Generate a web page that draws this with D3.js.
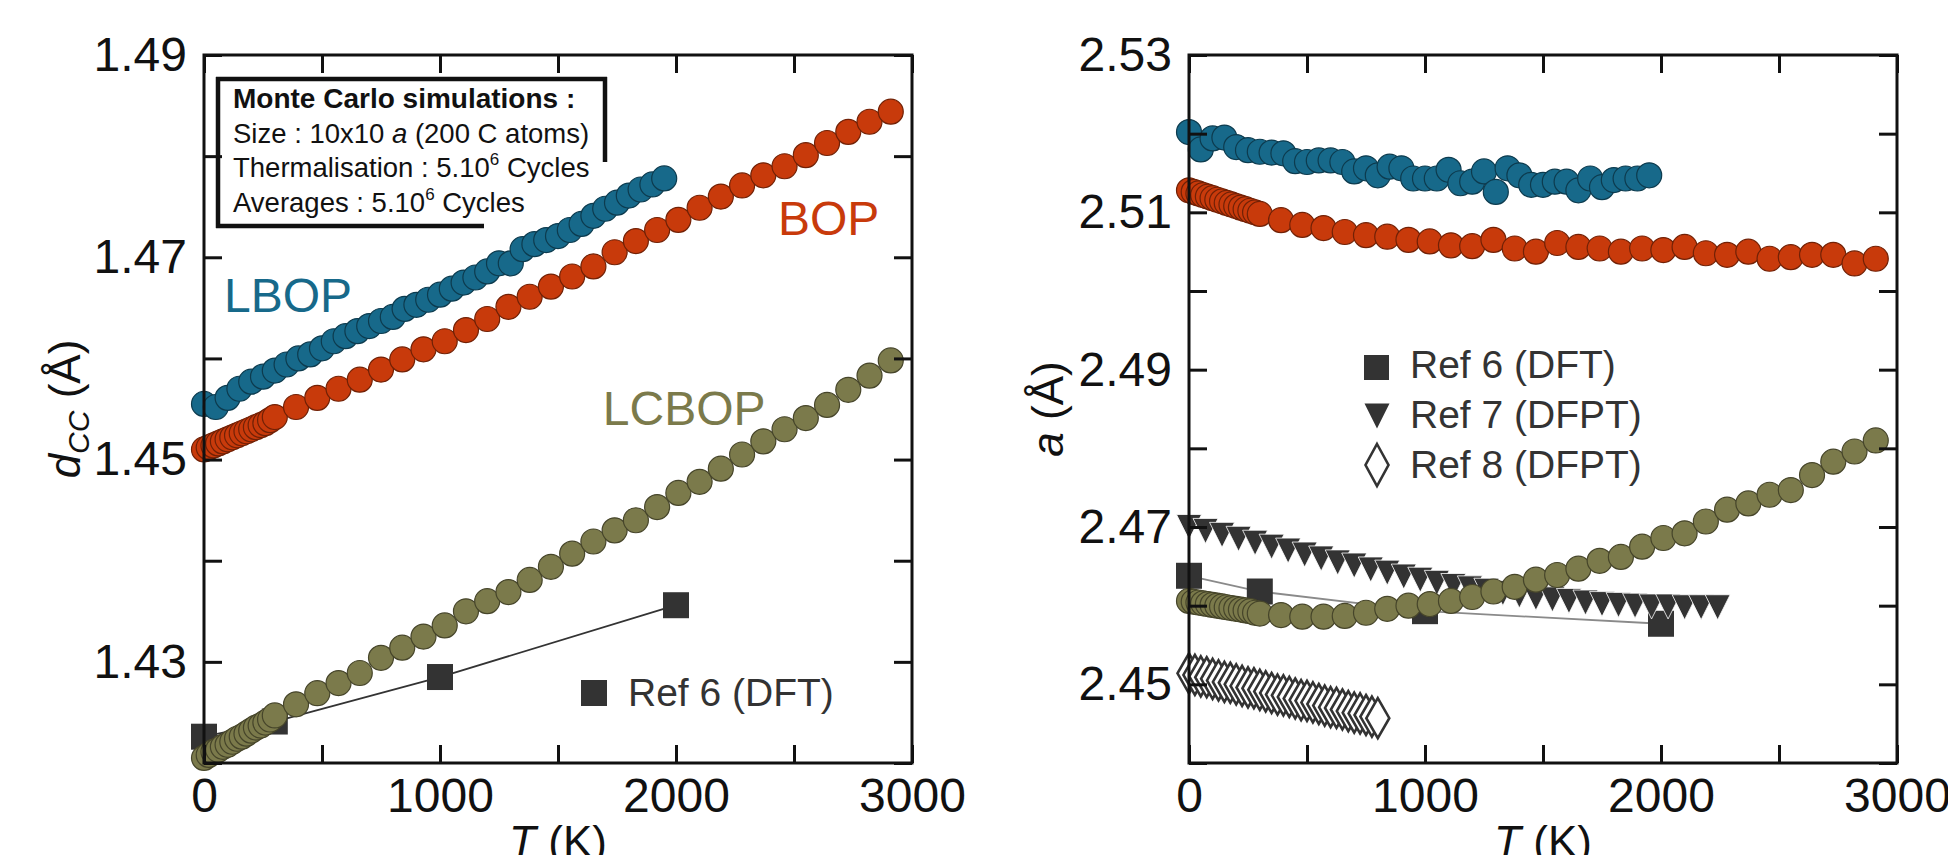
<!DOCTYPE html>
<html>
<head>
<meta charset="utf-8">
<script src="https://cdn.jsdelivr.net/npm/d3@7"></script>
<style>
body { margin: 0; background: #fff; }
text { font-family: "Liberation Sans", Arial, Helvetica, sans-serif; }
</style>
</head>
<body>
<script>
// temperatures (K)
let T_fine = [0, 20, 40, 60, 80, 100, 120, 140, 160, 180, 200, 220, 240, 260, 280];
let T_coarse = [300, 390, 480, 570, 660, 750, 840, 930, 1020, 1110, 1200, 1290, 1380, 1470, 1560,
    1650, 1740, 1830, 1920, 2010, 2100, 2190, 2280, 2370, 2460, 2550, 2640, 2730, 2820, 2910];
let T_lbop = [0, 50, 100, 150, 200, 250, 300, 350, 400, 450, 500, 550, 600, 650, 700, 750, 800, 850, 900, 950,
    1000, 1050, 1100, 1150, 1200, 1250, 1300, 1350, 1400, 1450, 1500, 1550, 1600, 1650, 1700, 1750, 1800, 1850, 1900, 1950];
let T_ref6 = [0, 300, 1000, 2000];
let T_ref7 = [0, 70, 140, 210, 280, 350, 420, 490, 560, 630, 700, 770, 840, 910, 980, 1050, 1120,
    1190, 1260, 1330, 1400, 1470, 1540, 1610, 1680, 1750, 1820, 1890, 1960, 2030, 2100, 2170, 2240];
let T_ref8 = [0, 25, 50, 75, 100, 125, 150, 175, 200, 225, 250, 275, 300, 325, 350, 375, 400,
    425, 450, 475, 500, 525, 550, 575, 600, 625, 650, 675, 700, 725, 750, 775, 800];

// left panel: d_CC (Å)
let dLBOP = [1.4555, 1.4552, 1.4561, 1.4570, 1.4577, 1.4582, 1.4588, 1.4594, 1.4600, 1.4604,
    1.4610, 1.4617, 1.4622, 1.4627, 1.4632, 1.4637, 1.4641, 1.4649, 1.4653, 1.4658,
    1.4663, 1.4669, 1.4675, 1.4680, 1.4686, 1.4694, 1.4694, 1.4708, 1.4713, 1.4717,
    1.4721, 1.4727, 1.4733, 1.4741, 1.4748, 1.4754, 1.4761, 1.4767, 1.4772, 1.4778];
let dBOP_fine = [1.4510, 1.4512, 1.4514, 1.4516, 1.4518, 1.4520, 1.4522, 1.4524, 1.4526, 1.4528,
    1.4530, 1.4532, 1.4534, 1.4536, 1.4539];
let dBOP_coarse = [1.4542, 1.4552, 1.4561, 1.4570, 1.4579, 1.4589, 1.4599, 1.4609, 1.4617, 1.4628,
    1.4639, 1.4651, 1.4661, 1.4671, 1.4681, 1.4691, 1.4705, 1.4716, 1.4727, 1.4737,
    1.4749, 1.4760, 1.4771, 1.4781, 1.4790, 1.4801, 1.4813, 1.4824, 1.4834, 1.4844];
let dLCBOP_fine = [1.4205, 1.4208, 1.4211, 1.4213, 1.4216, 1.4218, 1.4221, 1.4224, 1.4226, 1.4229,
    1.4232, 1.4235, 1.4237, 1.4240, 1.4243];
let dLCBOP_coarse = [1.4247, 1.4258, 1.4269, 1.4279, 1.4289, 1.4304, 1.4314, 1.4325, 1.4336, 1.4350,
    1.4360, 1.4369, 1.4381, 1.4394, 1.4407, 1.4419, 1.4430, 1.4440, 1.4453, 1.4467,
    1.4478, 1.4491, 1.4505, 1.4518, 1.4530, 1.4541, 1.4554, 1.4569, 1.4583, 1.4598];
let dRef6 = [1.4226, 1.4241, 1.4285, 1.4356];

// right panel: a (Å)
let aLBOP = [2.5202, 2.5180, 2.5194, 2.5195, 2.5183, 2.5179, 2.5177, 2.5176, 2.5175, 2.5165,
    2.5164, 2.5166, 2.5166, 2.5164, 2.5152, 2.5156, 2.5147, 2.5158, 2.5156, 2.5143,
    2.5143, 2.5143, 2.5154, 2.5137, 2.5139, 2.5152, 2.5126, 2.5156, 2.5147, 2.5135,
    2.5135, 2.5139, 2.5139, 2.5128, 2.5143, 2.5132, 2.5141, 2.5143, 2.5143, 2.5147];
let aBOP_fine = [2.5128, 2.5126, 2.5124, 2.5122, 2.5120, 2.5118, 2.5116, 2.5114, 2.5112, 2.5110,
    2.5108, 2.5106, 2.5104, 2.5102, 2.5100];
let aBOP_coarse = [2.5098, 2.5090, 2.5084, 2.5080, 2.5075, 2.5071, 2.5069, 2.5065, 2.5063, 2.5058,
    2.5057, 2.5065, 2.5054, 2.5050, 2.5061, 2.5056, 2.5054, 2.5050, 2.5054, 2.5052,
    2.5056, 2.5048, 2.5046, 2.5050, 2.5041, 2.5043, 2.5046, 2.5046, 2.5035, 2.5041];
let aLCBOP_fine = [2.4606, 2.4605, 2.4604, 2.4603, 2.4602, 2.4601, 2.4600, 2.4599, 2.4598, 2.4597,
    2.4596, 2.4595, 2.4594, 2.4593, 2.4591];
let aLCBOP_coarse = [2.4590, 2.4588, 2.4586, 2.4586, 2.4587, 2.4591, 2.4596, 2.4600, 2.4602, 2.4606,
    2.4611, 2.4618, 2.4624, 2.4633, 2.4639, 2.4647, 2.4657, 2.4662, 2.4675, 2.4686,
    2.4692, 2.4707, 2.4722, 2.4730, 2.4741, 2.4747, 2.4766, 2.4783, 2.4796, 2.4810];
let aRef6 = [2.4638, 2.4618, 2.4593, 2.4577];
let aRef7 = [2.4700, 2.4695, 2.4690, 2.4685, 2.4680, 2.4675, 2.4670, 2.4665, 2.4660, 2.4655,
    2.4651, 2.4646, 2.4642, 2.4637, 2.4633, 2.4629, 2.4625, 2.4622, 2.4619, 2.4616,
    2.4613, 2.4610, 2.4608, 2.4606, 2.4604, 2.4602, 2.4601, 2.4600, 2.4599, 2.4599,
    2.4598, 2.4598, 2.4598];
let aRef8 = [2.4514, 2.4512, 2.4510, 2.4509, 2.4507, 2.4505, 2.4503, 2.4502, 2.4500, 2.4498,
    2.4496, 2.4495, 2.4493, 2.4491, 2.4489, 2.4487, 2.4486, 2.4484, 2.4482, 2.4480,
    2.4479, 2.4477, 2.4475, 2.4473, 2.4471, 2.4470, 2.4468, 2.4466, 2.4464, 2.4463,
    2.4461, 2.4459, 2.4457];

let xTicks = [0, 500, 1000, 1500, 2000, 2500, 3000];
let yTicksL = [1.42, 1.43, 1.44, 1.45, 1.46, 1.47, 1.48, 1.49];
let yTicksR = [2.44, 2.45, 2.46, 2.47, 2.48, 2.49, 2.50, 2.51, 2.52, 2.53];

let teal = '#17698a', red = '#c83a0b', olive = '#7b7a4b', dark = '#333';

let svg = d3.select('body').append('svg')
    .attr('width', 1948)
    .attr('height', 855);

let xL = d3.scaleLinear().domain([0, 3000]).range([204, 912]);
let yL = d3.scaleLinear().domain([1.42, 1.49]).range([763, 55]);
let xR = d3.scaleLinear().domain([0, 3000]).range([1189, 1897]);
let yR = d3.scaleLinear().domain([2.44, 2.53]).range([763, 55]);

function circles(T, v, x, y, color) {
    svg.append('g').selectAll('circle')
        .data(T)
        .enter()
        .append('circle')
        .attr('cx', d => x(d))
        .attr('cy', (d, i) => y(v[i]))
        .attr('r', 12.5)
        .attr('fill', color)
        .attr('stroke', d3.color(color).darker(1.6))
        .attr('stroke-width', 1.2);
}

function ref6(T, v, x, y, lineColor) {
    let line = d3.line().x((d, i) => x(T[i])).y(d => y(d));
    svg.append('path')
        .attr('d', line(v))
        .attr('fill', 'none')
        .attr('stroke', lineColor)
        .attr('stroke-width', 1.8);
    svg.append('g').selectAll('rect')
        .data(T)
        .enter()
        .append('rect')
        .attr('x', d => x(d) - 13)
        .attr('y', (d, i) => y(v[i]) - 13)
        .attr('width', 26)
        .attr('height', 26)
        .attr('fill', dark);
}

function frame(x, y, yTicks) {
    let g = svg.append('g');
    let x0 = x.range()[0], x1 = x.range()[1], y0 = y.range()[0], y1 = y.range()[1];
    g.append('g').attr('transform', 'translate(0,' + y0 + ')')
        .call(d3.axisBottom(x).tickValues(xTicks).tickSizeInner(-18).tickSizeOuter(0).tickPadding(15)
            .tickFormat(d => d % 1000 === 0 ? d : ''));
    g.append('g').attr('transform', 'translate(0,' + y1 + ')')
        .call(d3.axisTop(x).tickValues(xTicks).tickSizeInner(-18).tickSizeOuter(0).tickFormat(''));
    g.append('g').attr('transform', 'translate(' + x0 + ',0)')
        .call(d3.axisLeft(y).tickValues(yTicks).tickSizeInner(-18).tickSizeOuter(0).tickPadding(17)
            .tickFormat(d => Math.round(d * 100) % 2 ? d3.format('.2f')(d) : ''));
    g.append('g').attr('transform', 'translate(' + x1 + ',0)')
        .call(d3.axisRight(y).tickValues(yTicks).tickSizeInner(-18).tickSizeOuter(0).tickFormat(''));
    g.selectAll('.domain').remove();
    g.selectAll('.tick line').attr('stroke', '#111').attr('stroke-width', 3);
    g.selectAll('.tick text').attr('font-size', 48).attr('fill', '#111');
    g.append('rect')
        .attr('x', x0).attr('y', y1)
        .attr('width', x1 - x0).attr('height', y0 - y1)
        .attr('fill', 'none')
        .attr('stroke', '#111')
        .attr('stroke-width', 3);
}

// ---------- left panel ----------
ref6(T_ref6, dRef6, xL, yL, dark);
circles(T_lbop, dLBOP, xL, yL, teal);
circles(T_fine.concat(T_coarse), dBOP_fine.concat(dBOP_coarse), xL, yL, red);
circles(T_fine.concat(T_coarse), dLCBOP_fine.concat(dLCBOP_coarse), xL, yL, olive);
frame(xL, yL, yTicksL);

svg.append('text').attr('x', xL(85)).attr('y', yL(1.4646)).attr('font-size', 48).attr('fill', teal).text('LBOP');
svg.append('text').attr('x', xL(2432)).attr('y', yL(1.4722)).attr('font-size', 48).attr('fill', red).text('BOP');
svg.append('text').attr('x', xL(1690)).attr('y', yL(1.4534)).attr('font-size', 48).attr('fill', olive).text('LCBOP');

// Ref 6 legend (left)
svg.append('rect').attr('x', 581).attr('y', 680).attr('width', 26).attr('height', 26).attr('fill', dark);
svg.append('text').attr('x', 628).attr('y', 706).attr('font-size', 39).attr('fill', dark).text('Ref 6 (DFT)');

// Monte Carlo box
let box = svg.append('g').attr('stroke', '#111').attr('stroke-width', 4.5).attr('fill', 'none');
box.append('line').attr('x1', 216).attr('x2', 607).attr('y1', 79).attr('y2', 79);
box.append('line').attr('x1', 218).attr('x2', 218).attr('y1', 77).attr('y2', 228);
box.append('line').attr('x1', 216).attr('x2', 484).attr('y1', 226).attr('y2', 226);
box.append('line').attr('x1', 605).attr('x2', 605).attr('y1', 77).attr('y2', 162);

svg.append('text').attr('x', 233).attr('y', 108).attr('font-size', 28).attr('font-weight', 'bold')
    .attr('fill', '#111').text('Monte Carlo simulations :');
let l1 = svg.append('text').attr('x', 233).attr('y', 143).attr('font-size', 27.5).attr('fill', '#111');
l1.append('tspan').text('Size : 10x10 ');
l1.append('tspan').attr('font-style', 'italic').text('a');
l1.append('tspan').text(' (200 C atoms)');
let l2 = svg.append('text').attr('x', 233).attr('y', 177).attr('font-size', 27.5).attr('fill', '#111');
l2.append('tspan').text('Thermalisation : 5.10');
l2.append('tspan').attr('font-size', 17).attr('dy', -12).text('6');
l2.append('tspan').attr('dy', 12).text(' Cycles');
let l3 = svg.append('text').attr('x', 233).attr('y', 212).attr('font-size', 27.5).attr('fill', '#111');
l3.append('tspan').text('Averages : 5.10');
l3.append('tspan').attr('font-size', 17).attr('dy', -12).text('6');
l3.append('tspan').attr('dy', 12).text(' Cycles');

// axis titles (left)
let yt = svg.append('text').attr('transform', 'translate(80,409) rotate(-90)')
    .attr('text-anchor', 'middle').attr('font-size', 44).attr('fill', '#111');
yt.append('tspan').attr('font-style', 'italic').text('d');
yt.append('tspan').attr('font-style', 'italic').attr('font-size', 30).attr('dy', 9).text('CC');
yt.append('tspan').attr('dy', -9).text(' (Å)');
let xt = svg.append('text').attr('x', 558).attr('y', 857)
    .attr('text-anchor', 'middle').attr('font-size', 44).attr('fill', '#111');
xt.append('tspan').attr('font-style', 'italic').text('T');
xt.append('tspan').text(' (K)');

// ---------- right panel ----------
ref6(T_ref6, aRef6, xR, yR, '#8a8a8a');

let tri = 'M-12.5,-12.5L12.5,-12.5L0,12.5Z';
let dia = 'M0,-20L11.5,0L0,20L-11.5,0Z';

svg.append('g').selectAll('path')
    .data(T_ref7)
    .enter()
    .append('path')
    .attr('d', tri)
    .attr('transform', (d, i) => 'translate(' + xR(d) + ',' + yR(aRef7[i]) + ')')
    .attr('fill', dark)
    .attr('stroke', '#fff')
    .attr('stroke-width', 0.8);

svg.append('g').selectAll('path')
    .data(T_ref8)
    .enter()
    .append('path')
    .attr('d', dia)
    .attr('transform', (d, i) => 'translate(' + xR(d) + ',' + yR(aRef8[i]) + ')')
    .attr('fill', '#fff')
    .attr('stroke', dark)
    .attr('stroke-width', 2.6);

circles(T_lbop, aLBOP, xR, yR, teal);
circles(T_fine.concat(T_coarse), aBOP_fine.concat(aBOP_coarse), xR, yR, red);
circles(T_fine.concat(T_coarse), aLCBOP_fine.concat(aLCBOP_coarse), xR, yR, olive);
frame(xR, yR, yTicksR);

// legend (right)
svg.append('rect').attr('x', 1364).attr('y', 355).attr('width', 25).attr('height', 25).attr('fill', dark);
svg.append('path').attr('d', tri).attr('transform', 'translate(1377,416)').attr('fill', dark);
svg.append('path').attr('d', 'M0,-21L11.5,0L0,21L-11.5,0Z').attr('transform', 'translate(1377,465)')
    .attr('fill', '#fff').attr('stroke', dark).attr('stroke-width', 2.6);
let legR = ['Ref 6 (DFT)', 'Ref 7 (DFPT)', 'Ref 8 (DFPT)'];
svg.append('g').selectAll('text')
    .data(legR)
    .enter()
    .append('text')
    .attr('x', 1410)
    .attr('y', (d, i) => 378 + i * 50)
    .attr('font-size', 39)
    .attr('fill', dark)
    .text(d => d);

// axis titles (right)
let yt2 = svg.append('text').attr('transform', 'translate(1063,409) rotate(-90)')
    .attr('text-anchor', 'middle').attr('font-size', 44).attr('fill', '#111');
yt2.append('tspan').attr('font-style', 'italic').text('a');
yt2.append('tspan').text(' (Å)');
let xt2 = svg.append('text').attr('x', 1543).attr('y', 857)
    .attr('text-anchor', 'middle').attr('font-size', 44).attr('fill', '#111');
xt2.append('tspan').attr('font-style', 'italic').text('T');
xt2.append('tspan').text(' (K)');
</script>
</body>
</html>
